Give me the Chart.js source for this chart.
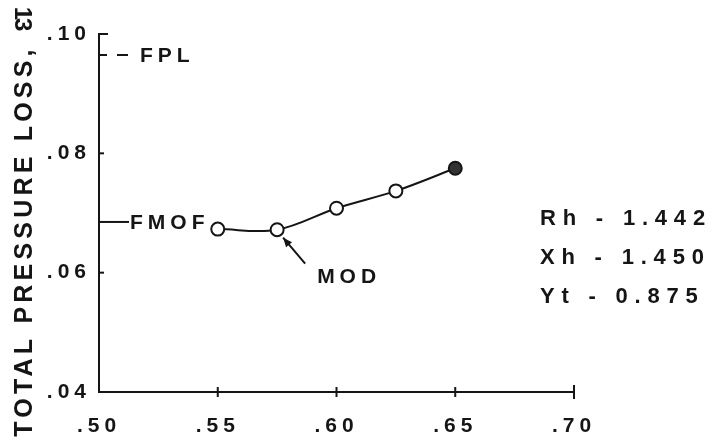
<!DOCTYPE html>
<html>
<head>
<meta charset="utf-8">
<script src="https://cdn.jsdelivr.net/npm/chart.js@4"></script>
<style>
  html, body { margin: 0; padding: 0; background: #fff; }
  #wrap { width: 719px; height: 445px; position: relative; }
</style>
</head>
<body>
<div id="wrap"><canvas id="lossChart"></canvas></div>
<script>
// 数据
const xValues = [0.55, 0.575, 0.60, 0.625, 0.65];
const lossValues = [0.0673, 0.0672, 0.0708, 0.0737, 0.0775];
const filledPoint = [false, false, false, false, true];

const xTickValues = [0.50, 0.55, 0.60, 0.65, 0.70];
const yTickValues = [0.04, 0.06, 0.08, 0.10];

// 参考线
const fplValue = 0.0965;
const fmofValue = 0.0685;
const modIndex = 1;

// 右侧参数
const paramLines = ['Rh - 1.442', 'Xh - 1.450', 'Yt - 0.875'];

const axisTitle = 'TOTAL PRESSURE LOSS,';
const pageNo = '13';

const ink = '#151515';
const fam = '"Liberation Sans", Arial, sans-serif';

function fmt(v) {
  return v.toFixed(2).replace(/^0/, '');
}

// 标注插件
const notesPlugin = {
  id: 'notes',
  beforeDraw(chart) {
    chart.ctx.letterSpacing = '5px';
  },
  afterDraw(chart) {
    const ctx = chart.ctx;
    const xs = chart.scales.x;
    const ys = chart.scales.y;
    const area = chart.chartArea;
    ctx.save();
    ctx.strokeStyle = ink;
    ctx.fillStyle = ink;
    ctx.lineWidth = 2;

    // y 轴刻度（向内）
    yTickValues.forEach((v, i) => {
      const y = ys.getPixelForValue(v);
      const len = i === yTickValues.length - 1 ? 9 : 5;
      ctx.beginPath();
      ctx.moveTo(area.left, y);
      ctx.lineTo(area.left + len, y);
      ctx.stroke();
    });
    // x 轴刻度（穿过轴线）
    xTickValues.slice(1).forEach((v, i) => {
      const x = xs.getPixelForValue(v);
      const h = i === xTickValues.length - 2 ? 7 : 5;
      ctx.beginPath();
      ctx.moveTo(x, area.bottom - h);
      ctx.lineTo(x, area.bottom + h);
      ctx.stroke();
    });

    ctx.font = 'bold 21px ' + fam;
    ctx.letterSpacing = '5px';
    ctx.textBaseline = 'middle';
    ctx.textAlign = 'left';

    // FPL
    const yFpl = ys.getPixelForValue(fplValue);
    ctx.beginPath();
    ctx.moveTo(area.left, yFpl);
    ctx.lineTo(area.left + 8, yFpl);
    ctx.moveTo(area.left + 18, yFpl);
    ctx.lineTo(area.left + 29, yFpl);
    ctx.stroke();
    ctx.fillText('FPL', area.left + 41, yFpl + 1);

    // FMOF
    const yFm = ys.getPixelForValue(fmofValue);
    ctx.beginPath();
    ctx.moveTo(area.left, yFm);
    ctx.lineTo(area.left + 30, yFm);
    ctx.stroke();
    ctx.fillText('FMOF', area.left + 31, yFm + 1);

    // MOD 箭头
    const px = xs.getPixelForValue(xValues[modIndex]);
    const py = ys.getPixelForValue(lossValues[modIndex]);
    const tipX = px + 6, tipY = py + 8;
    const tailX = px + 28, tailY = py + 34;
    ctx.beginPath();
    ctx.moveTo(tailX, tailY);
    ctx.lineTo(tipX, tipY);
    ctx.stroke();
    const ang = Math.atan2(tipY - tailY, tipX - tailX);
    ctx.beginPath();
    ctx.moveTo(tipX, tipY);
    ctx.lineTo(tipX - 10 * Math.cos(ang - 0.4), tipY - 10 * Math.sin(ang - 0.4));
    ctx.lineTo(tipX - 10 * Math.cos(ang + 0.4), tipY - 10 * Math.sin(ang + 0.4));
    ctx.closePath();
    ctx.fill();
    ctx.fillText('MOD', px + 40, py + 47);

    // 右侧参数
    ctx.font = 'bold 22px ' + fam;
    ctx.letterSpacing = '6.8px';
    paramLines.forEach((t, i) => {
      ctx.fillText(t, area.right - 34, 219 + i * 39);
    });

    // y 轴标题
    ctx.save();
    ctx.translate(25, 241);
    ctx.rotate(-Math.PI / 2);
    ctx.textAlign = 'center';
    ctx.font = 'bold 25px ' + fam;
    ctx.letterSpacing = '4.2px';
    ctx.fillText(axisTitle, 0, 0);
    ctx.restore();

    // 页码
    ctx.save();
    ctx.translate(22, 18);
    ctx.rotate(Math.PI / 2);
    ctx.textAlign = 'center';
    ctx.font = 'bold 24px ' + fam;
    ctx.letterSpacing = '-2px';
    ctx.fillText(pageNo, 0, 0);
    ctx.restore();

    ctx.restore();
  }
};

new Chart(document.getElementById('lossChart'), {
  type: 'scatter',
  data: {
    datasets: [{
      data: xValues.map((x, i) => ({ x: x, y: lossValues[i] })),
      showLine: true,
      tension: 0.35,
      borderColor: ink,
      borderWidth: 2,
      pointRadius: 6.5,
      pointBorderWidth: 2,
      pointBorderColor: ink,
      pointBackgroundColor: filledPoint.map(f => f ? '#333' : '#fff')
    }]
  },
  options: {
    responsive: true,
    maintainAspectRatio: false,
    animation: false,
    events: [],
    layout: { padding: { top: 34, right: 145, left: 0, bottom: 0 } },
    plugins: {
      legend: { display: false },
      tooltip: { enabled: false }
    },
    scales: {
      x: {
        type: 'linear',
        min: 0.50,
        max: 0.70,
        afterBuildTicks: s => { s.ticks = xTickValues.map(v => ({ value: v })); },
        afterFit: s => { s.height = 53; },
        grid: { display: false, drawTicks: false },
        border: { display: true, color: ink, width: 2 },
        ticks: {
          color: ink,
          font: { family: fam, size: 21, weight: 'bold' },
          padding: 22,
          maxRotation: 0,
          callback: v => fmt(v)
        }
      },
      y: {
        type: 'linear',
        min: 0.04,
        max: 0.10,
        afterBuildTicks: s => { s.ticks = yTickValues.map(v => ({ value: v })); },
        afterFit: s => { s.width = 99; },
        grid: { display: false, drawTicks: false },
        border: { display: true, color: ink, width: 2 },
        ticks: {
          color: ink,
          font: { family: fam, size: 21, weight: 'bold' },
          padding: 8,
          callback: v => fmt(v)
        }
      }
    }
  },
  plugins: [notesPlugin]
});
</script>
</body>
</html>
